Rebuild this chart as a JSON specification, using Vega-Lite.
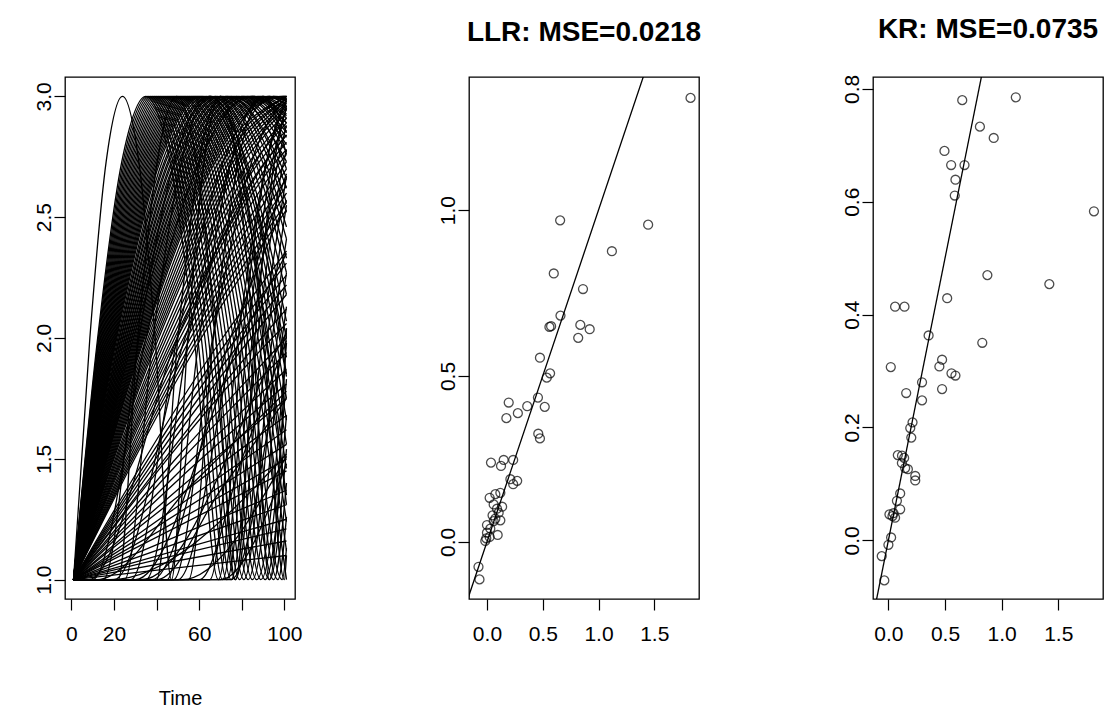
{
"$schema": "https://vega.github.io/schema/vega-lite/v6.json",
"background": "white",
"padding": {"left": 32, "top": 15, "right": 0, "bottom": 0},
"bounds": "flush",
"spacing": 174,
"config": {
 "view": {"stroke": "black", "strokeWidth": 1.3},
 "font": "Liberation Sans",
 "axis": {"domain": false, "grid": false, "tickColor": "black", "tickSize": 11, "tickWidth": 1.2, "labelColor": "black", "labelFont": "Liberation Sans", "labelFontSize": 21, "labelPadding": 13, "titleFont": "Liberation Sans", "titleFontSize": 20, "titleFontWeight": "normal", "titleColor": "black", "titlePadding": 44, "labelFlush": false, "labelOverlap": false},
 "axisLeft": {"labelAngle": 270, "labelAlign": "center", "labelBaseline": "alphabetic", "labelPadding": 4},
 "axisBottom": {"labelAlign": "center", "labelBaseline": "top"},
 "title": {"font": "Liberation Sans", "fontSize": 28, "fontWeight": "bold", "color": "black", "anchor": "middle", "offset": 30, "frame": "group"}
},
"datasets": {
 "curves": [
  {"c":1,"t":1,"y":1},{"c":1,"t":8.67,"y":2},{"c":1,"t":16.33,"y":2.73},{"c":1,"t":24,"y":3},{"c":1,"t":31.67,"y":2.73},{"c":1,"t":39.33,"y":2},{"c":1,"t":47,"y":1},{"c":1,"t":54.67,"y":2},{"c":1,"t":62.33,"y":2.73},{"c":1,"t":70,"y":3},{"c":1,"t":77.67,"y":2.73},{"c":1,"t":85.33,"y":2},{"c":1,"t":93,"y":1},{"c":1,"t":101,"y":2.04},
  {"c":2,"t":1,"y":1},{"c":2,"t":12.33,"y":2},{"c":2,"t":23.67,"y":2.73},{"c":2,"t":35,"y":3},{"c":2,"t":46.33,"y":2.73},{"c":2,"t":57.67,"y":2},{"c":2,"t":69,"y":1},{"c":2,"t":80.33,"y":2},{"c":2,"t":91.67,"y":2.73},{"c":2,"t":101,"y":2.99},
  {"c":3,"t":1,"y":1},{"c":3,"t":13,"y":2},{"c":3,"t":25,"y":2.73},{"c":3,"t":37,"y":3},{"c":3,"t":49,"y":2.73},{"c":3,"t":61,"y":2},{"c":3,"t":73,"y":1},{"c":3,"t":85,"y":2},{"c":3,"t":97,"y":2.73},{"c":3,"t":101,"y":2.88},
  {"c":4,"t":1,"y":1},{"c":4,"t":13.67,"y":2},{"c":4,"t":26.33,"y":2.73},{"c":4,"t":39,"y":3},{"c":4,"t":51.67,"y":2.73},{"c":4,"t":64.33,"y":2},{"c":4,"t":77,"y":1},{"c":4,"t":89.67,"y":2},{"c":4,"t":101,"y":2.67},
  {"c":5,"t":1,"y":1},{"c":5,"t":14.33,"y":2},{"c":5,"t":27.67,"y":2.73},{"c":5,"t":41,"y":3},{"c":5,"t":54.33,"y":2.73},{"c":5,"t":67.67,"y":2},{"c":5,"t":81,"y":1},{"c":5,"t":94.33,"y":2},{"c":5,"t":101,"y":2.41},
  {"c":6,"t":1,"y":1},{"c":6,"t":15,"y":2},{"c":6,"t":29,"y":2.73},{"c":6,"t":43,"y":3},{"c":6,"t":57,"y":2.73},{"c":6,"t":71,"y":2},{"c":6,"t":85,"y":1},{"c":6,"t":99,"y":2},{"c":6,"t":101,"y":2.13},
  {"c":7,"t":1,"y":1},{"c":7,"t":15.67,"y":2},{"c":7,"t":30.33,"y":2.73},{"c":7,"t":45,"y":3},{"c":7,"t":59.67,"y":2.73},{"c":7,"t":74.33,"y":2},{"c":7,"t":89,"y":1},{"c":7,"t":101,"y":1.83},
  {"c":8,"t":1,"y":1},{"c":8,"t":16.33,"y":2},{"c":8,"t":31.67,"y":2.73},{"c":8,"t":47,"y":3},{"c":8,"t":62.33,"y":2.73},{"c":8,"t":77.67,"y":2},{"c":8,"t":93,"y":1},{"c":8,"t":101,"y":1.54},
  {"c":9,"t":1,"y":1},{"c":9,"t":17,"y":2},{"c":9,"t":33,"y":2.73},{"c":9,"t":49,"y":3},{"c":9,"t":65,"y":2.73},{"c":9,"t":81,"y":2},{"c":9,"t":97,"y":1},{"c":9,"t":101,"y":1.26},
  {"c":10,"t":1,"y":1},{"c":10,"t":17.67,"y":2},{"c":10,"t":34.33,"y":2.73},{"c":10,"t":51,"y":3},{"c":10,"t":67.67,"y":2.73},{"c":10,"t":84.33,"y":2},{"c":10,"t":101,"y":1},
  {"c":11,"t":1,"y":1},{"c":11,"t":18.33,"y":2},{"c":11,"t":35.67,"y":2.73},{"c":11,"t":53,"y":3},{"c":11,"t":70.33,"y":2.73},{"c":11,"t":87.67,"y":2},{"c":11,"t":101,"y":1.24},
  {"c":12,"t":1,"y":1},{"c":12,"t":19,"y":2},{"c":12,"t":37,"y":2.73},{"c":12,"t":55,"y":3},{"c":12,"t":73,"y":2.73},{"c":12,"t":91,"y":2},{"c":12,"t":101,"y":1.46},
  {"c":13,"t":1,"y":1},{"c":13,"t":19.67,"y":2},{"c":13,"t":38.33,"y":2.73},{"c":13,"t":57,"y":3},{"c":13,"t":75.67,"y":2.73},{"c":13,"t":94.33,"y":2},{"c":13,"t":101,"y":1.66},
  {"c":14,"t":1,"y":1},{"c":14,"t":20.33,"y":2},{"c":14,"t":39.67,"y":2.73},{"c":14,"t":59,"y":3},{"c":14,"t":78.33,"y":2.73},{"c":14,"t":97.67,"y":2},{"c":14,"t":101,"y":1.84},
  {"c":15,"t":1,"y":1},{"c":15,"t":21,"y":2},{"c":15,"t":41,"y":2.73},{"c":15,"t":61,"y":3},{"c":15,"t":81,"y":2.73},{"c":15,"t":101,"y":2},
  {"c":16,"t":1,"y":1},{"c":16,"t":21.83,"y":2},{"c":16,"t":42.67,"y":2.73},{"c":16,"t":63.5,"y":3},{"c":16,"t":84.33,"y":2.73},{"c":16,"t":101,"y":2.18},
  {"c":17,"t":1,"y":1},{"c":17,"t":22.67,"y":2},{"c":17,"t":44.33,"y":2.73},{"c":17,"t":66,"y":3},{"c":17,"t":87.67,"y":2.73},{"c":17,"t":101,"y":2.33},
  {"c":18,"t":1,"y":1},{"c":18,"t":23.5,"y":2},{"c":18,"t":46,"y":2.73},{"c":18,"t":68.5,"y":3},{"c":18,"t":91,"y":2.73},{"c":18,"t":101,"y":2.46},
  {"c":19,"t":1,"y":1},{"c":19,"t":24.33,"y":2},{"c":19,"t":47.67,"y":2.73},{"c":19,"t":71,"y":3},{"c":19,"t":94.33,"y":2.73},{"c":19,"t":101,"y":2.56},
  {"c":20,"t":1,"y":1},{"c":20,"t":25.17,"y":2},{"c":20,"t":49.33,"y":2.73},{"c":20,"t":73.5,"y":3},{"c":20,"t":97.67,"y":2.73},{"c":20,"t":101,"y":2.66},
  {"c":21,"t":1,"y":1},{"c":21,"t":26,"y":2},{"c":21,"t":51,"y":2.73},{"c":21,"t":76,"y":3},{"c":21,"t":101,"y":2.73},
  {"c":22,"t":1,"y":1},{"c":22,"t":26.83,"y":2},{"c":22,"t":52.67,"y":2.73},{"c":22,"t":78.5,"y":3},{"c":22,"t":101,"y":2.8},
  {"c":23,"t":1,"y":1},{"c":23,"t":27.67,"y":2},{"c":23,"t":54.33,"y":2.73},{"c":23,"t":81,"y":3},{"c":23,"t":101,"y":2.85},
  {"c":24,"t":1,"y":1},{"c":24,"t":28.5,"y":2},{"c":24,"t":56,"y":2.73},{"c":24,"t":83.5,"y":3},{"c":24,"t":101,"y":2.89},
  {"c":25,"t":1,"y":1},{"c":25,"t":29.33,"y":2},{"c":25,"t":57.67,"y":2.73},{"c":25,"t":86,"y":3},{"c":25,"t":101,"y":2.92},
  {"c":26,"t":1,"y":1},{"c":26,"t":30.33,"y":2},{"c":26,"t":59.67,"y":2.73},{"c":26,"t":89,"y":3},{"c":26,"t":101,"y":2.95},
  {"c":27,"t":1,"y":1},{"c":27,"t":31.33,"y":2},{"c":27,"t":61.67,"y":2.73},{"c":27,"t":92,"y":3},{"c":27,"t":101,"y":2.98},
  {"c":28,"t":1,"y":1},{"c":28,"t":32.33,"y":2},{"c":28,"t":63.67,"y":2.73},{"c":28,"t":95,"y":3},{"c":28,"t":101,"y":2.99},
  {"c":29,"t":1,"y":1},{"c":29,"t":33.33,"y":2},{"c":29,"t":65.67,"y":2.73},{"c":29,"t":98,"y":3},{"c":29,"t":101,"y":3},
  {"c":30,"t":1,"y":1},{"c":30,"t":34.33,"y":2},{"c":30,"t":67.67,"y":2.73},{"c":30,"t":101,"y":3},
  {"c":31,"t":1,"y":1},{"c":31,"t":36,"y":2},{"c":31,"t":71,"y":2.73},{"c":31,"t":101,"y":2.99},
  {"c":32,"t":1,"y":1},{"c":32,"t":37.67,"y":2},{"c":32,"t":74.33,"y":2.73},{"c":32,"t":101,"y":2.98},
  {"c":33,"t":1,"y":1},{"c":33,"t":39.33,"y":2},{"c":33,"t":77.67,"y":2.73},{"c":33,"t":101,"y":2.96},
  {"c":34,"t":1,"y":1},{"c":34,"t":41,"y":2},{"c":34,"t":81,"y":2.73},{"c":34,"t":101,"y":2.93},
  {"c":35,"t":1,"y":1},{"c":35,"t":43.5,"y":2},{"c":35,"t":86,"y":2.73},{"c":35,"t":101,"y":2.89},
  {"c":36,"t":1,"y":1},{"c":36,"t":46,"y":2},{"c":36,"t":91,"y":2.73},{"c":36,"t":101,"y":2.84},
  {"c":37,"t":1,"y":1},{"c":37,"t":48.5,"y":2},{"c":37,"t":96,"y":2.73},{"c":37,"t":101,"y":2.78},
  {"c":38,"t":1,"y":1},{"c":38,"t":51,"y":2},{"c":38,"t":101,"y":2.73},
  {"c":39,"t":1,"y":1},{"c":39,"t":54.33,"y":2},{"c":39,"t":101,"y":2.66},
  {"c":40,"t":1,"y":1},{"c":40,"t":57.67,"y":2},{"c":40,"t":101,"y":2.6},
  {"c":41,"t":1,"y":1},{"c":41,"t":61,"y":2},{"c":41,"t":101,"y":2.53},
  {"c":43,"t":1,"y":1},{"c":43,"t":71,"y":2},{"c":43,"t":101,"y":2.36},
  {"c":44,"t":1,"y":1},{"c":44,"t":77.67,"y":2},{"c":44,"t":101,"y":2.26},
  {"c":45,"t":1,"y":1},{"c":45,"t":84.33,"y":2},{"c":45,"t":101,"y":2.18},
  {"c":46,"t":1,"y":1},{"c":46,"t":94.33,"y":2},{"c":46,"t":101,"y":2.06},
  {"c":47,"t":1,"y":1},{"c":47,"t":51,"y":1.49},{"c":47,"t":101,"y":1.94},
  {"c":48,"t":1,"y":1},{"c":48,"t":51,"y":1.42},{"c":48,"t":101,"y":1.81},
  {"c":49,"t":1,"y":1},{"c":49,"t":51,"y":1.35},{"c":49,"t":101,"y":1.68},
  {"c":50,"t":1,"y":1},{"c":50,"t":101,"y":1.56},
  {"c":51,"t":1,"y":1},{"c":51,"t":101,"y":1.45},
  {"c":52,"t":1,"y":1},{"c":52,"t":101,"y":1.31},
  {"c":53,"t":1,"y":1},{"c":53,"t":101,"y":1.21},
  {"c":54,"t":1,"y":1},{"c":54,"t":101,"y":1.1},
  {"c":55,"t":1,"y":1},{"c":55,"t":12.67,"y":2},{"c":55,"t":24.33,"y":2.73},{"c":55,"t":36,"y":3},{"c":55,"t":47.67,"y":2.73},{"c":55,"t":59.33,"y":2},{"c":55,"t":71,"y":1},{"c":55,"t":82.67,"y":2},{"c":55,"t":94.33,"y":2.73},{"c":55,"t":101,"y":2.95},
  {"c":56,"t":1,"y":1},{"c":56,"t":13.33,"y":2},{"c":56,"t":25.67,"y":2.73},{"c":56,"t":38,"y":3},{"c":56,"t":50.33,"y":2.73},{"c":56,"t":62.67,"y":2},{"c":56,"t":75,"y":1},{"c":56,"t":87.33,"y":2},{"c":56,"t":99.67,"y":2.73},{"c":56,"t":101,"y":2.78},
  {"c":57,"t":1,"y":1},{"c":57,"t":14,"y":2},{"c":57,"t":27,"y":2.73},{"c":57,"t":40,"y":3},{"c":57,"t":53,"y":2.73},{"c":57,"t":66,"y":2},{"c":57,"t":79,"y":1},{"c":57,"t":92,"y":2},{"c":57,"t":101,"y":2.55},
  {"c":58,"t":1,"y":1},{"c":58,"t":14.67,"y":2},{"c":58,"t":28.33,"y":2.73},{"c":58,"t":42,"y":3},{"c":58,"t":55.67,"y":2.73},{"c":58,"t":69.33,"y":2},{"c":58,"t":83,"y":1},{"c":58,"t":96.67,"y":2},{"c":58,"t":101,"y":2.27},
  {"c":59,"t":1,"y":1},{"c":59,"t":15.33,"y":2},{"c":59,"t":29.67,"y":2.73},{"c":59,"t":44,"y":3},{"c":59,"t":58.33,"y":2.73},{"c":59,"t":72.67,"y":2},{"c":59,"t":87,"y":1},{"c":59,"t":101,"y":1.98},
  {"c":60,"t":1,"y":1},{"c":60,"t":16,"y":2},{"c":60,"t":31,"y":2.73},{"c":60,"t":46,"y":3},{"c":60,"t":61,"y":2.73},{"c":60,"t":76,"y":2},{"c":60,"t":91,"y":1},{"c":60,"t":101,"y":1.68},
  {"c":61,"t":1,"y":1},{"c":61,"t":16.67,"y":2},{"c":61,"t":32.33,"y":2.73},{"c":61,"t":48,"y":3},{"c":61,"t":63.67,"y":2.73},{"c":61,"t":79.33,"y":2},{"c":61,"t":95,"y":1},{"c":61,"t":101,"y":1.4},
  {"c":62,"t":1,"y":1},{"c":62,"t":17.33,"y":2},{"c":62,"t":33.67,"y":2.73},{"c":62,"t":50,"y":3},{"c":62,"t":66.33,"y":2.73},{"c":62,"t":82.67,"y":2},{"c":62,"t":99,"y":1},{"c":62,"t":101,"y":1.13},
  {"c":63,"t":1,"y":1},{"c":63,"t":18,"y":2},{"c":63,"t":35,"y":2.73},{"c":63,"t":52,"y":3},{"c":63,"t":69,"y":2.73},{"c":63,"t":86,"y":2},{"c":63,"t":101,"y":1.12},
  {"c":64,"t":1,"y":1},{"c":64,"t":18.67,"y":2},{"c":64,"t":36.33,"y":2.73},{"c":64,"t":54,"y":3},{"c":64,"t":71.67,"y":2.73},{"c":64,"t":89.33,"y":2},{"c":64,"t":101,"y":1.35},
  {"c":65,"t":1,"y":1},{"c":65,"t":19.33,"y":2},{"c":65,"t":37.67,"y":2.73},{"c":65,"t":56,"y":3},{"c":65,"t":74.33,"y":2.73},{"c":65,"t":92.67,"y":2},{"c":65,"t":101,"y":1.56},
  {"c":66,"t":1,"y":1},{"c":66,"t":20,"y":2},{"c":66,"t":39,"y":2.73},{"c":66,"t":58,"y":3},{"c":66,"t":77,"y":2.73},{"c":66,"t":96,"y":2},{"c":66,"t":101,"y":1.75},
  {"c":67,"t":1,"y":1},{"c":67,"t":20.67,"y":2},{"c":67,"t":40.33,"y":2.73},{"c":67,"t":60,"y":3},{"c":67,"t":79.67,"y":2.73},{"c":67,"t":99.33,"y":2},{"c":67,"t":101,"y":1.92},
  {"c":68,"t":1,"y":1},{"c":68,"t":21.33,"y":2},{"c":68,"t":41.67,"y":2.73},{"c":68,"t":62,"y":3},{"c":68,"t":82.33,"y":2.73},{"c":68,"t":101,"y":2.07},
  {"c":69,"t":1,"y":1},{"c":69,"t":22.33,"y":2},{"c":69,"t":43.67,"y":2.73},{"c":69,"t":65,"y":3},{"c":69,"t":86.33,"y":2.73},{"c":69,"t":101,"y":2.27},
  {"c":70,"t":1,"y":1},{"c":70,"t":23.17,"y":2},{"c":70,"t":45.33,"y":2.73},{"c":70,"t":67.5,"y":3},{"c":70,"t":89.67,"y":2.73},{"c":70,"t":101,"y":2.41},
  {"c":71,"t":1,"y":1},{"c":71,"t":24,"y":2},{"c":71,"t":47,"y":2.73},{"c":71,"t":70,"y":3},{"c":71,"t":93,"y":2.73},{"c":71,"t":101,"y":2.52},
  {"c":72,"t":1,"y":1},{"c":72,"t":24.83,"y":2},{"c":72,"t":48.67,"y":2.73},{"c":72,"t":72.5,"y":3},{"c":72,"t":96.33,"y":2.73},{"c":72,"t":101,"y":2.62},
  {"c":73,"t":1,"y":1},{"c":73,"t":25.67,"y":2},{"c":73,"t":50.33,"y":2.73},{"c":73,"t":75,"y":3},{"c":73,"t":99.67,"y":2.73},{"c":73,"t":101,"y":2.7},
  {"c":74,"t":1,"y":1},{"c":74,"t":26.5,"y":2},{"c":74,"t":52,"y":2.73},{"c":74,"t":77.5,"y":3},{"c":74,"t":101,"y":2.77},
  {"c":75,"t":1,"y":1},{"c":75,"t":27.33,"y":2},{"c":75,"t":53.67,"y":2.73},{"c":75,"t":80,"y":3},{"c":75,"t":101,"y":2.83},
  {"c":76,"t":1,"y":1},{"c":76,"t":28.17,"y":2},{"c":76,"t":55.33,"y":2.73},{"c":76,"t":82.5,"y":3},{"c":76,"t":101,"y":2.87},
  {"c":77,"t":1,"y":1},{"c":77,"t":29,"y":2},{"c":77,"t":57,"y":2.73},{"c":77,"t":85,"y":3},{"c":77,"t":101,"y":2.91},
  {"c":78,"t":1,"y":1},{"c":78,"t":29.83,"y":2},{"c":78,"t":58.67,"y":2.73},{"c":78,"t":87.5,"y":3},{"c":78,"t":101,"y":2.94},
  {"c":79,"t":1,"y":1},{"c":79,"t":30.83,"y":2},{"c":79,"t":60.67,"y":2.73},{"c":79,"t":90.5,"y":3},{"c":79,"t":101,"y":2.97},
  {"c":80,"t":1,"y":1},{"c":80,"t":31.83,"y":2},{"c":80,"t":62.67,"y":2.73},{"c":80,"t":93.5,"y":3},{"c":80,"t":101,"y":2.98},
  {"c":81,"t":1,"y":1},{"c":81,"t":32.83,"y":2},{"c":81,"t":64.67,"y":2.73},{"c":81,"t":96.5,"y":3},{"c":81,"t":101,"y":2.99},
  {"c":82,"t":1,"y":1},{"c":82,"t":33.83,"y":2},{"c":82,"t":66.67,"y":2.73},{"c":82,"t":99.5,"y":3},{"c":82,"t":101,"y":3},
  {"c":83,"t":1,"y":1},{"c":83,"t":35.17,"y":2},{"c":83,"t":69.33,"y":2.73},{"c":83,"t":101,"y":3},
  {"c":84,"t":1,"y":1},{"c":84,"t":36.83,"y":2},{"c":84,"t":72.67,"y":2.73},{"c":84,"t":101,"y":2.99},
  {"c":85,"t":1,"y":1},{"c":85,"t":38.5,"y":2},{"c":85,"t":76,"y":2.73},{"c":85,"t":101,"y":2.97},
  {"c":86,"t":1,"y":1},{"c":86,"t":40.17,"y":2},{"c":86,"t":79.33,"y":2.73},{"c":86,"t":101,"y":2.95},
  {"c":87,"t":1,"y":1},{"c":87,"t":42.33,"y":2},{"c":87,"t":83.67,"y":2.73},{"c":87,"t":101,"y":2.91},
  {"c":88,"t":1,"y":1},{"c":88,"t":44.67,"y":2},{"c":88,"t":88.33,"y":2.73},{"c":88,"t":101,"y":2.86},
  {"c":89,"t":1,"y":1},{"c":89,"t":47.33,"y":2},{"c":89,"t":93.67,"y":2.73},{"c":89,"t":101,"y":2.81},
  {"c":90,"t":1,"y":1},{"c":90,"t":49.67,"y":2},{"c":90,"t":98.33,"y":2.73},{"c":90,"t":101,"y":2.76},
  {"c":91,"t":1,"y":1},{"c":91,"t":52.67,"y":2},{"c":91,"t":101,"y":2.7},
  {"c":92,"t":1,"y":1},{"c":92,"t":56,"y":2},{"c":92,"t":101,"y":2.63},
  {"c":93,"t":1,"y":1},{"c":93,"t":59.33,"y":2},{"c":93,"t":101,"y":2.56},
  {"c":96,"t":1,"y":1},{"c":96,"t":74.33,"y":2},{"c":96,"t":101,"y":2.31},
  {"c":97,"t":1,"y":1},{"c":97,"t":81,"y":2},{"c":97,"t":101,"y":2.22},
  {"c":98,"t":1,"y":1},{"c":98,"t":89.33,"y":2},{"c":98,"t":101,"y":2.12},
  {"c":99,"t":1,"y":1},{"c":99,"t":51,"y":1.52},{"c":99,"t":101,"y":2},
  {"c":100,"t":1,"y":1},{"c":100,"t":51,"y":1.45},{"c":100,"t":101,"y":1.87},
  {"c":101,"t":1,"y":1},{"c":101,"t":51,"y":1.38},{"c":101,"t":101,"y":1.75},
  {"c":102,"t":1,"y":1},{"c":102,"t":51,"y":1.31},{"c":102,"t":101,"y":1.62},
  {"c":103,"t":1,"y":1},{"c":103,"t":101,"y":1.5},
  {"c":104,"t":1,"y":1},{"c":104,"t":101,"y":1.37},
  {"c":105,"t":1,"y":1},{"c":105,"t":101,"y":1.25},
  {"c":106,"t":1,"y":1},{"c":106,"t":101,"y":1.16},
  {"c":201,"t":1,"y":1},{"c":201,"t":10,"y":1},{"c":201,"t":35,"y":2},{"c":201,"t":60,"y":2.73},{"c":201,"t":85,"y":3},{"c":201,"t":101,"y":2.89},
  {"c":202,"t":1,"y":1},{"c":202,"t":15,"y":1},{"c":202,"t":31.67,"y":2},{"c":202,"t":48.33,"y":2.73},{"c":202,"t":65,"y":3},{"c":202,"t":81.67,"y":2.73},{"c":202,"t":98.33,"y":2},{"c":202,"t":101,"y":1.85},
  {"c":203,"t":1,"y":1},{"c":203,"t":20,"y":1},{"c":203,"t":53.33,"y":2},{"c":203,"t":86.67,"y":2.73},{"c":203,"t":101,"y":2.91},
  {"c":204,"t":1,"y":1},{"c":204,"t":25,"y":1},{"c":204,"t":38.33,"y":2},{"c":204,"t":51.67,"y":2.73},{"c":204,"t":65,"y":3},{"c":204,"t":78.33,"y":2.73},{"c":204,"t":91.67,"y":2},{"c":204,"t":101,"y":1.31},
  {"c":205,"t":1,"y":1},{"c":205,"t":30,"y":1},{"c":205,"t":80,"y":2},{"c":205,"t":101,"y":2.35},
  {"c":206,"t":1,"y":1},{"c":206,"t":35,"y":1},{"c":206,"t":55,"y":2},{"c":206,"t":75,"y":2.73},{"c":206,"t":95,"y":3},{"c":206,"t":101,"y":2.98},
  {"c":207,"t":1,"y":1},{"c":207,"t":40,"y":1},{"c":207,"t":50,"y":2},{"c":207,"t":60,"y":2.73},{"c":207,"t":70,"y":3},{"c":207,"t":80,"y":2.73},{"c":207,"t":90,"y":2},{"c":207,"t":100,"y":1},{"c":207,"t":101,"y":1.1},
  {"c":208,"t":1,"y":1},{"c":208,"t":40,"y":1},{"c":208,"t":70,"y":1.37},{"c":208,"t":101,"y":1.75},
  {"c":209,"t":1,"y":1},{"c":209,"t":45,"y":1},{"c":209,"t":60,"y":2},{"c":209,"t":75,"y":2.73},{"c":209,"t":90,"y":3},{"c":209,"t":101,"y":2.85},
  {"c":210,"t":1,"y":1},{"c":210,"t":50,"y":1},{"c":210,"t":76.67,"y":2},{"c":210,"t":101,"y":2.68},
  {"c":211,"t":1,"y":1},{"c":211,"t":55,"y":1},{"c":211,"t":66.67,"y":2},{"c":211,"t":78.33,"y":2.73},{"c":211,"t":90,"y":3},{"c":211,"t":101,"y":2.76},
  {"c":212,"t":1,"y":1},{"c":212,"t":60,"y":1},{"c":212,"t":80.5,"y":1.51},{"c":212,"t":101,"y":1.99},
  {"c":213,"t":1,"y":1},{"c":213,"t":12,"y":1},{"c":213,"t":56,"y":1.39},{"c":213,"t":101,"y":1.78},
  {"c":214,"t":1,"y":1},{"c":214,"t":18,"y":1},{"c":214,"t":101,"y":1.52},
  {"c":215,"t":1,"y":1},{"c":215,"t":28,"y":1},{"c":215,"t":49.67,"y":2},{"c":215,"t":71.33,"y":2.73},{"c":215,"t":93,"y":3},{"c":215,"t":101,"y":2.96},
  {"c":216,"t":1,"y":1},{"c":216,"t":33,"y":1},{"c":216,"t":99.67,"y":2},{"c":216,"t":101,"y":2.02},
  {"c":217,"t":1,"y":1},{"c":217,"t":48,"y":1},{"c":217,"t":66.33,"y":2},{"c":217,"t":84.67,"y":2.73},{"c":217,"t":101,"y":3},
  {"c":218,"t":1,"y":1},{"c":218,"t":65,"y":1},{"c":218,"t":78.33,"y":2},{"c":218,"t":91.67,"y":2.73},{"c":218,"t":101,"y":2.98},
  {"c":219,"t":1,"y":1},{"c":219,"t":70,"y":1},{"c":219,"t":101,"y":1.48},
  {"c":220,"t":1,"y":1},{"c":220,"t":22,"y":1},{"c":220,"t":31.17,"y":2},{"c":220,"t":40.33,"y":2.73},{"c":220,"t":49.5,"y":3},{"c":220,"t":58.67,"y":2.73},{"c":220,"t":67.83,"y":2},{"c":220,"t":77,"y":1},{"c":220,"t":86.17,"y":2},{"c":220,"t":95.33,"y":2.73},{"c":220,"t":101,"y":2.96},
  {"c":221,"t":1,"y":1},{"c":221,"t":8,"y":1},{"c":221,"t":49.67,"y":2},{"c":221,"t":91.33,"y":2.73},{"c":221,"t":101,"y":2.84},
  {"c":222,"t":1,"y":1},{"c":222,"t":52,"y":1},{"c":222,"t":101,"y":1.51},
  {"c":223,"t":1,"y":1},{"c":223,"t":75,"y":1},{"c":223,"t":100,"y":2},{"c":223,"t":101,"y":2.04},
  {"c":224,"t":1,"y":1},{"c":224,"t":38,"y":1},{"c":224,"t":74.67,"y":2},{"c":224,"t":101,"y":2.57}
 ],
 "diag": [{"a": -0.5, "b": 2.5}],
 "llr": [
  {"x":1.825,"y":1.338},{"x":0.656,"y":0.969},{"x":1.445,"y":0.956},{"x":1.12,"y":0.876},{"x":0.599,"y":0.809},
  {"x":0.861,"y":0.762},{"x":0.659,"y":0.682},{"x":0.56,"y":0.648},{"x":0.575,"y":0.65},{"x":0.837,"y":0.654},
  {"x":0.921,"y":0.641},{"x":0.818,"y":0.615},{"x":0.475,"y":0.555},{"x":0.566,"y":0.508},{"x":0.536,"y":0.495},
  {"x":0.457,"y":0.435},{"x":0.518,"y":0.407},{"x":0.361,"y":0.409},{"x":0.195,"y":0.42},{"x":0.277,"y":0.388},
  {"x":0.174,"y":0.373},{"x":0.46,"y":0.326},{"x":0.475,"y":0.312},{"x":0.036,"y":0.239},{"x":0.15,"y":0.247},
  {"x":0.126,"y":0.229},{"x":0.235,"y":0.247},{"x":0.21,"y":0.189},{"x":0.271,"y":0.184},{"x":0.235,"y":0.174},
  {"x":0.024,"y":0.133},{"x":0.075,"y":0.144},{"x":0.12,"y":0.148},{"x":0.06,"y":0.113},{"x":0.136,"y":0.106},
  {"x":0.105,"y":0.088},{"x":0.12,"y":0.065},{"x":0.06,"y":0.063},{"x":0.0,"y":0.051},{"x":0.096,"y":0.021},
  {"x":0.0,"y":0.028},{"x":-0.006,"y":0.011},{"x":0.024,"y":0.015},{"x":-0.015,"y":0.003},{"x":-0.076,"y":-0.075},
  {"x":-0.067,"y":-0.113},{"x":0.03,"y":0.04},{"x":0.075,"y":0.07},{"x":0.09,"y":0.1},{"x":0.05,"y":0.08}
 ],
 "kr": [
  {"x":0.652,"y":0.78},{"x":1.125,"y":0.785},{"x":0.808,"y":0.733},{"x":0.93,"y":0.713},{"x":0.495,"y":0.69},
  {"x":0.554,"y":0.665},{"x":0.672,"y":0.665},{"x":0.592,"y":0.639},{"x":0.586,"y":0.611},{"x":1.815,"y":0.583},
  {"x":0.874,"y":0.47},{"x":1.421,"y":0.454},{"x":0.519,"y":0.429},{"x":0.059,"y":0.414},{"x":0.142,"y":0.414},
  {"x":0.355,"y":0.363},{"x":0.829,"y":0.35},{"x":0.021,"y":0.307},{"x":0.474,"y":0.32},{"x":0.45,"y":0.308},
  {"x":0.557,"y":0.296},{"x":0.592,"y":0.292},{"x":0.297,"y":0.28},{"x":0.157,"y":0.261},{"x":0.474,"y":0.268},
  {"x":0.297,"y":0.248},{"x":0.213,"y":0.209},{"x":0.193,"y":0.199},{"x":0.202,"y":0.182},{"x":0.083,"y":0.151},
  {"x":0.139,"y":0.146},{"x":0.119,"y":0.137},{"x":0.148,"y":0.128},{"x":0.172,"y":0.126},{"x":0.237,"y":0.114},
  {"x":0.237,"y":0.106},{"x":0.104,"y":0.083},{"x":0.075,"y":0.07},{"x":0.104,"y":0.055},{"x":0.009,"y":0.046},
  {"x":0.036,"y":0.043},{"x":0.059,"y":0.04},{"x":0.024,"y":0.005},{"x":0.0,"y":-0.008},{"x":-0.059,"y":-0.028},
  {"x":-0.036,"y":-0.071},{"x":0.045,"y":0.048},{"x":0.12,"y":0.15}
 ]
},
"hconcat": [
 {
  "width": 230, "height": 522,
  "data": {"name": "curves"},
  "mark": {"type": "line", "interpolate": "monotone", "color": "black", "strokeWidth": 1.3, "clip": true},
  "encoding": {
   "x": {"field": "t", "type": "quantitative", "scale": {"domain": [-3, 105], "nice": false, "zero": false}, "axis": {"values": [0,20,40,60,80,100], "labelExpr": "datum.value == 40 || datum.value == 80 ? '' : datum.label", "title": "Time"}},
   "y": {"field": "y", "type": "quantitative", "scale": {"domain": [0.92, 3.08], "nice": false, "zero": false}, "axis": {"values": [1,1.5,2,2.5,3], "format": ".1f", "title": null}},
   "detail": {"field": "c", "type": "nominal"}
  }
 },
 {
  "width": 230, "height": 522,
  "title": {"text": "LLR: MSE=0.0218"},
  "layer": [
   {"data": {"name": "diag"}, "mark": {"type": "rule", "color": "black", "strokeWidth": 1.3, "clip": true},
    "encoding": {
     "x": {"field": "a", "type": "quantitative", "scale": {"domain": [-0.161, 1.901], "nice": false, "zero": false}, "axis": {"values": [0,0.5,1,1.5], "format": ".1f", "title": null}},
     "y": {"field": "a", "type": "quantitative", "scale": {"domain": [-0.172, 1.401], "nice": false, "zero": false}, "axis": {"values": [0,0.5,1], "format": ".1f", "title": null}},
     "x2": {"field": "b"}, "y2": {"field": "b"}}},
   {"data": {"name": "llr"}, "mark": {"type": "point", "shape": "circle", "filled": false, "color": "black", "size": 80, "strokeWidth": 1.3},
    "encoding": {
     "x": {"field": "x", "type": "quantitative", "scale": {"domain": [-0.161, 1.901], "nice": false, "zero": false}, "axis": {"values": [0,0.5,1,1.5], "format": ".1f", "title": null}},
     "y": {"field": "y", "type": "quantitative", "scale": {"domain": [-0.172, 1.401], "nice": false, "zero": false}, "axis": {"values": [0,0.5,1], "format": ".1f", "title": null}}}}
  ]
 },
 {
  "width": 230, "height": 522,
  "title": {"text": "KR: MSE=0.0735"},
  "layer": [
   {"data": {"name": "diag"}, "mark": {"type": "rule", "color": "black", "strokeWidth": 1.3, "clip": true},
    "encoding": {
     "x": {"field": "a", "type": "quantitative", "scale": {"domain": [-0.136, 1.895], "nice": false, "zero": false}, "axis": {"values": [0,0.5,1,1.5], "format": ".1f", "title": null}},
     "y": {"field": "a", "type": "quantitative", "scale": {"domain": [-0.104, 0.821], "nice": false, "zero": false}, "axis": {"values": [0,0.2,0.4,0.6,0.8], "format": ".1f", "title": null}},
     "x2": {"field": "b"}, "y2": {"field": "b"}}},
   {"data": {"name": "kr"}, "mark": {"type": "point", "shape": "circle", "filled": false, "color": "black", "size": 80, "strokeWidth": 1.3},
    "encoding": {
     "x": {"field": "x", "type": "quantitative", "scale": {"domain": [-0.136, 1.895], "nice": false, "zero": false}, "axis": {"values": [0,0.5,1,1.5], "format": ".1f", "title": null}},
     "y": {"field": "y", "type": "quantitative", "scale": {"domain": [-0.104, 0.821], "nice": false, "zero": false}, "axis": {"values": [0,0.2,0.4,0.6,0.8], "format": ".1f", "title": null}}}}
  ]
 }
]
}
